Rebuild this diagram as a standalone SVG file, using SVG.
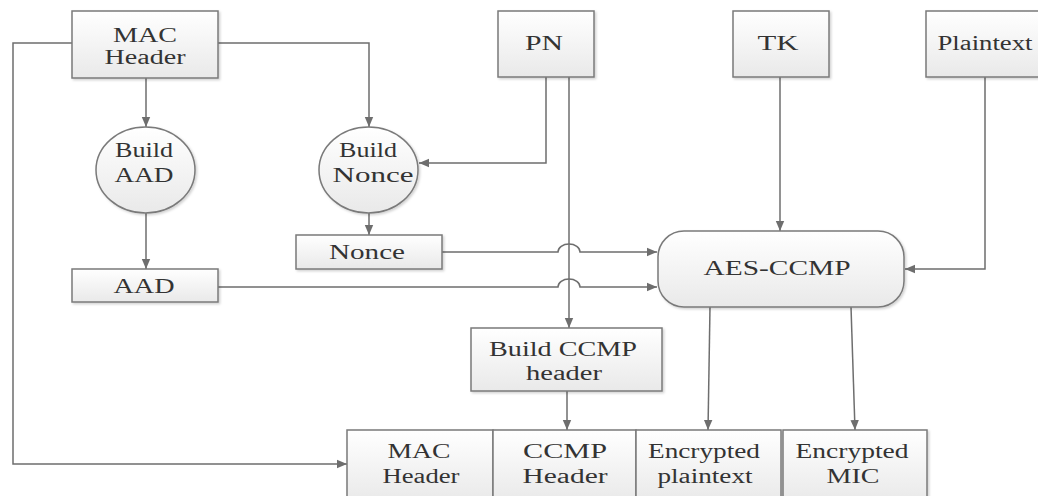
<svg xmlns="http://www.w3.org/2000/svg" width="1038" height="496" viewBox="0 0 1038 496">
  <defs>
    <linearGradient id="boxFill" x1="0" y1="0" x2="0" y2="1">
      <stop offset="0" stop-color="#ffffff"/>
      <stop offset="1" stop-color="#e9e9e9"/>
    </linearGradient>
    <filter id="shade" x="-10%" y="-10%" width="125%" height="130%">
      <feDropShadow dx="1.5" dy="1.5" stdDeviation="1.2" flood-color="#000" flood-opacity="0.18"/>
    </filter>
    <marker id="arrow" viewBox="0 0 10 10" refX="10" refY="5" markerWidth="10" markerHeight="10" markerUnits="userSpaceOnUse" orient="auto">
      <path d="M0,0.8 L10,5 L0,9.2 Z" fill="#6e6e6e"/>
    </marker>
    <style>
      .box { fill: url(#boxFill); stroke: #7a7a7a; stroke-width: 1.5; filter: url(#shade); }
      .lbl { font-family: "Liberation Serif", "Times New Roman", serif; font-size: 20px; fill: #333; text-anchor: middle; }
      .wire { fill: none; stroke: #6e6e6e; stroke-width: 1.5; }
      .to { marker-end: url(#arrow); }
    </style>
  </defs>

  <!-- connectors -->
  <g id="connectors">
    <!-- MAC Header around the left edge to the output MAC Header -->
    <path class="wire to" d="M72,43 H13 V464 H347"/>
    <!-- MAC Header to Build AAD -->
    <path class="wire to" d="M146,78 V127"/>
    <!-- MAC Header to Build Nonce -->
    <path class="wire to" d="M218,43 H369 V127"/>
    <!-- PN to Build Nonce -->
    <path class="wire to" d="M546,77 V163 H419"/>
    <!-- PN to Build CCMP header -->
    <path class="wire to" d="M569,77 V328"/>
    <!-- Build AAD to AAD -->
    <path class="wire to" d="M146,213 V269"/>
    <!-- Build Nonce to Nonce -->
    <path class="wire to" d="M369,213 V235"/>
    <!-- Nonce to AES-CCMP, hopping over the PN line -->
    <path class="wire to" d="M442,252 H558 A11,8 0 0 1 580,252 H657"/>
    <!-- AAD to AES-CCMP, hopping over the PN line -->
    <path class="wire to" d="M218,287 H558 A11,8 0 0 1 580,287 H657"/>
    <!-- TK to AES-CCMP -->
    <path class="wire to" d="M780,77 V231"/>
    <!-- Plaintext to AES-CCMP -->
    <path class="wire to" d="M985,77 V269 H905"/>
    <!-- AES-CCMP outputs -->
    <path class="wire to" d="M710,307 L708,430"/>
    <path class="wire to" d="M851,307 L855,430"/>
    <!-- Build CCMP header to CCMP Header -->
    <path class="wire to" d="M567,391 V430"/>
  </g>

  <g id="mac-header-in">
    <rect class="box" x="72" y="11" width="146" height="67"/>
    <text class="lbl" x="145" y="42" textLength="64" lengthAdjust="spacingAndGlyphs">MAC</text>
    <text class="lbl" x="145" y="64" textLength="81" lengthAdjust="spacingAndGlyphs">Header</text>
  </g>

  <g id="pn">
    <rect class="box" x="498" y="11" width="96" height="66"/>
    <text class="lbl" x="544" y="50" textLength="38" lengthAdjust="spacingAndGlyphs">PN</text>
  </g>

  <g id="tk">
    <rect class="box" x="733" y="11" width="96" height="66"/>
    <text class="lbl" x="778" y="50" textLength="41" lengthAdjust="spacingAndGlyphs">TK</text>
  </g>

  <g id="plaintext">
    <rect class="box" x="926" y="11" width="122" height="66"/>
    <text class="lbl" x="985" y="50" textLength="95" lengthAdjust="spacingAndGlyphs">Plaintext</text>
  </g>

  <g id="build-aad">
    <ellipse class="box" cx="145.5" cy="170" rx="49.5" ry="43"/>
    <text class="lbl" x="144" y="157" textLength="58" lengthAdjust="spacingAndGlyphs">Build</text>
    <text class="lbl" x="144" y="182" textLength="59" lengthAdjust="spacingAndGlyphs">AAD</text>
  </g>

  <g id="build-nonce">
    <ellipse class="box" cx="368.5" cy="170" rx="49.5" ry="43"/>
    <text class="lbl" x="368" y="157" textLength="58" lengthAdjust="spacingAndGlyphs">Build</text>
    <text class="lbl" x="373" y="182" textLength="81" lengthAdjust="spacingAndGlyphs">Nonce</text>
  </g>

  <g id="nonce">
    <rect class="box" x="296" y="235" width="146" height="34"/>
    <text class="lbl" x="367" y="259" textLength="76" lengthAdjust="spacingAndGlyphs">Nonce</text>
  </g>

  <g id="aad">
    <rect class="box" x="72" y="269" width="146" height="33"/>
    <text class="lbl" x="144" y="293" textLength="61" lengthAdjust="spacingAndGlyphs">AAD</text>
  </g>

  <g id="aes-ccmp">
    <rect class="box" x="658" y="231" width="246" height="76" rx="26" ry="26"/>
    <text class="lbl" x="777" y="275" textLength="147" lengthAdjust="spacingAndGlyphs">AES-CCMP</text>
  </g>

  <g id="build-ccmp-header">
    <rect class="box" x="471" y="328" width="191" height="63"/>
    <text class="lbl" x="563" y="356" textLength="148" lengthAdjust="spacingAndGlyphs">Build CCMP</text>
    <text class="lbl" x="564" y="380" textLength="76" lengthAdjust="spacingAndGlyphs">header</text>
  </g>

  <g id="mac-header-out">
    <rect class="box" x="347" y="430" width="146" height="72"/>
    <text class="lbl" x="419" y="458" textLength="63" lengthAdjust="spacingAndGlyphs">MAC</text>
    <text class="lbl" x="421" y="483" textLength="77" lengthAdjust="spacingAndGlyphs">Header</text>
  </g>

  <g id="ccmp-header">
    <rect class="box" x="493" y="430" width="143" height="72"/>
    <text class="lbl" x="565" y="458" textLength="84" lengthAdjust="spacingAndGlyphs">CCMP</text>
    <text class="lbl" x="565" y="483" textLength="85" lengthAdjust="spacingAndGlyphs">Header</text>
  </g>

  <g id="encrypted-plaintext">
    <rect class="box" x="636" y="430" width="145" height="72"/>
    <text class="lbl" x="704" y="458" textLength="112" lengthAdjust="spacingAndGlyphs">Encrypted</text>
    <text class="lbl" x="705" y="483" textLength="95" lengthAdjust="spacingAndGlyphs">plaintext</text>
  </g>

  <g id="encrypted-mic">
    <rect class="box" x="783" y="430" width="144" height="72"/>
    <text class="lbl" x="852" y="458" textLength="113" lengthAdjust="spacingAndGlyphs">Encrypted</text>
    <text class="lbl" x="853" y="483" textLength="53" lengthAdjust="spacingAndGlyphs">MIC</text>
  </g>
</svg>
